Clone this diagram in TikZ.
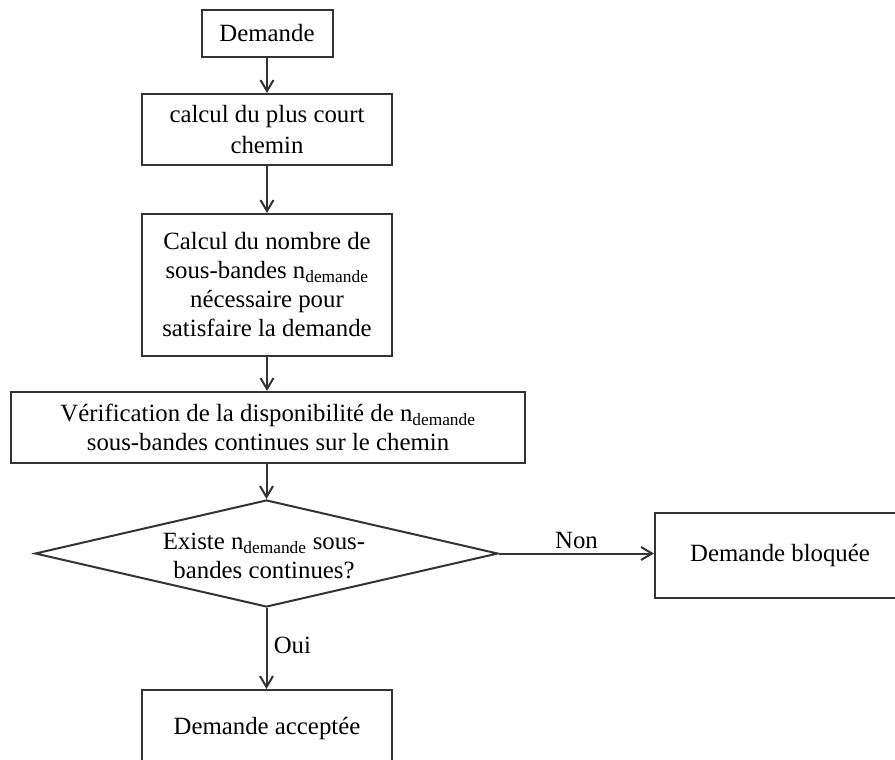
\documentclass[tikz,border=0pt]{standalone}
\usepackage{fontspec}
\setmainfont{Liberation Serif}
\usetikzlibrary{arrows.meta,shapes.geometric}

\begin{document}
\begin{tikzpicture}[x=1pt,y=-1pt,
  font=\fontsize{24.8}{29}\selectfont,
  box/.style={draw=black!80,line width=2pt,minimum width=250pt,minimum height=71pt,
    inner sep=0pt,align=center},
  decision/.style={draw=black!80,line width=2pt,diamond,minimum width=463pt,
    minimum height=107pt,inner sep=0pt},
  flow/.style={draw=black!80,line width=2pt,
    -{Straight Barb[length=11pt,width=13pt,line width=2pt]}}]
\useasboundingbox (0,0) rectangle (895,760);
\node[box,minimum width=131pt,minimum height=47pt] (dem) at (267,33.5) {Demande};
\node[box] (chemin) at (267,129.5) {calcul du plus court\\[2pt]chemin};
\node[box,minimum height=142pt] (nombre) at (267,285)
  {Calcul du nombre de\\sous-bandes n\textsubscript{demande}\\n\'ecessaire pour\\satisfaire la demande};
\node[box,minimum width=514pt] (verif) at (268,427.5)
  {V\'erification de la disponibilit\'e de n\textsubscript{demande}\\sous-bandes continues sur le chemin};
\node[decision] (existe) at (266.5,553.5) {};
\node[align=center] (existetxt) at (264,556) {Existe n\textsubscript{demande} sous-\\bandes continues?};
\node[box,minimum height=85pt] (bloquee) at (780,555.5) {Demande bloqu\'ee};
\node[box,minimum height=78pt] (acceptee) at (267,729) {Demande accept\'ee};

\draw[flow] (dem) -- (chemin);
\draw[flow] (chemin) -- (nombre);
\draw[flow] (nombre) -- (verif.north -| nombre);
\draw[flow] (verif.south -| existe) -- (existe.north);
\draw[flow] (existe.east) -- node[above] {Non} (bloquee.west |- existe.east);
\draw[flow] (existe.south) -- node[right=3pt,pos=0.46] {Oui} (acceptee.north -| existe.south);
\end{tikzpicture}
\end{document}
